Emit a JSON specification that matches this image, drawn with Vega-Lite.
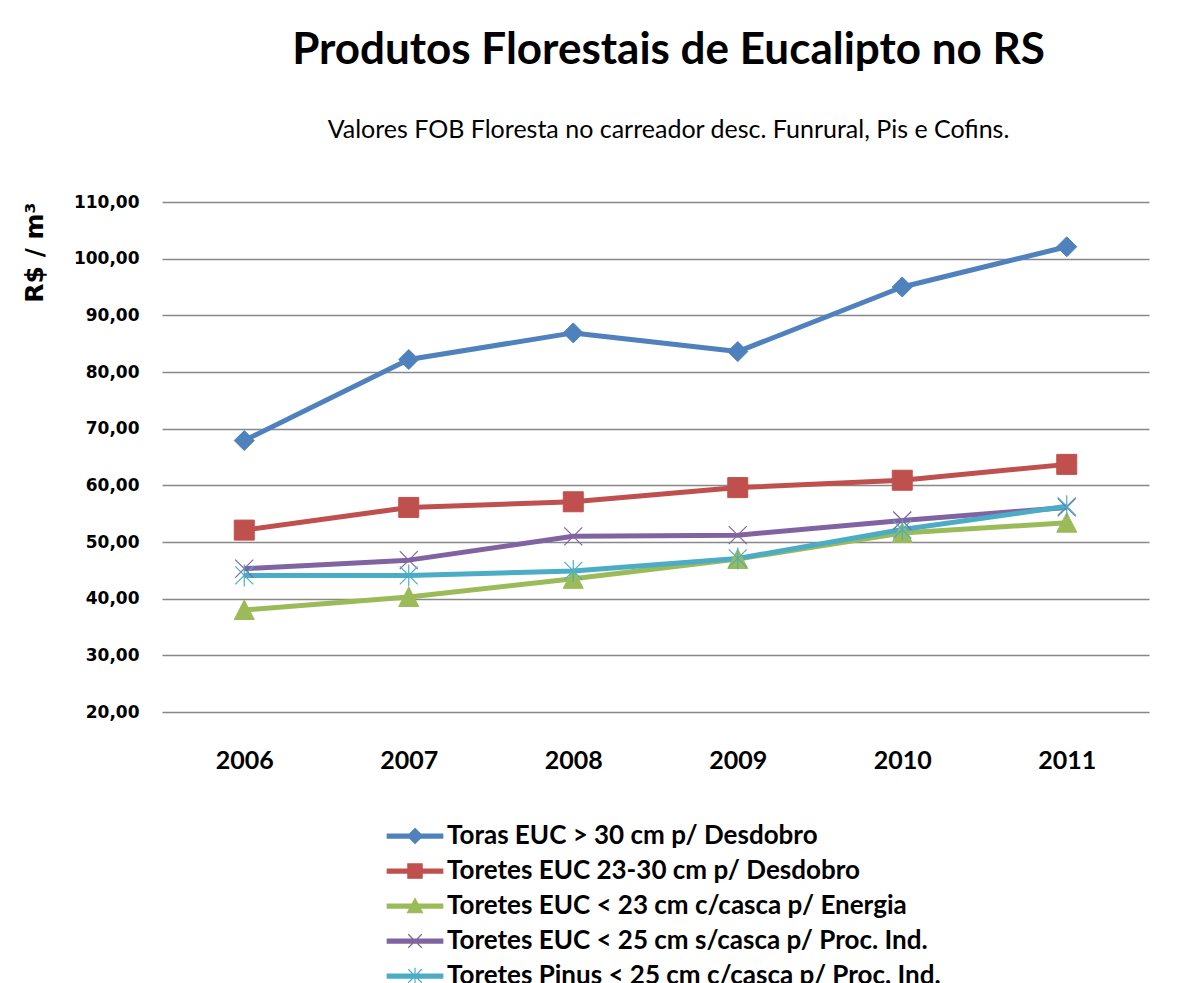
{
  "$schema": "https://vega.github.io/schema/vega-lite/v6.json",
  "autosize": {"type": "none"},
  "width": 987,
  "height": 510,
  "padding": {"left": 162, "top": 202, "right": 30, "bottom": 271},
  "background": "white",
  "config": {"view": {"stroke": null}},
  "title": {
    "text": "Produtos Florestais de Eucalipto no RS",
    "subtitle": "Valores FOB Floresta no carreador desc. Funrural, Pis e Cofins.",
    "anchor": "middle",
    "dx": 13,
    "font": "Lato",
    "fontSize": 44,
    "fontWeight": "bold",
    "color": "black",
    "subtitleFont": "Lato",
    "subtitleFontSize": 25,
    "subtitleColor": "black",
    "subtitlePadding": 45,
    "offset": 50
  },
  "data": {
    "values": [
      {"year": "2006", "series": "Toras EUC > 30 cm p/ Desdobro", "value": 67.9},
      {"year": "2007", "series": "Toras EUC > 30 cm p/ Desdobro", "value": 82.2},
      {"year": "2008", "series": "Toras EUC > 30 cm p/ Desdobro", "value": 86.9},
      {"year": "2009", "series": "Toras EUC > 30 cm p/ Desdobro", "value": 83.6},
      {"year": "2010", "series": "Toras EUC > 30 cm p/ Desdobro", "value": 95.0},
      {"year": "2011", "series": "Toras EUC > 30 cm p/ Desdobro", "value": 102.1},
      {"year": "2006", "series": "Toretes EUC 23-30 cm p/ Desdobro", "value": 52.1},
      {"year": "2007", "series": "Toretes EUC 23-30 cm p/ Desdobro", "value": 56.1},
      {"year": "2008", "series": "Toretes EUC 23-30 cm p/ Desdobro", "value": 57.1},
      {"year": "2009", "series": "Toretes EUC 23-30 cm p/ Desdobro", "value": 59.6},
      {"year": "2010", "series": "Toretes EUC 23-30 cm p/ Desdobro", "value": 60.9},
      {"year": "2011", "series": "Toretes EUC 23-30 cm p/ Desdobro", "value": 63.7},
      {"year": "2006", "series": "Toretes EUC < 23 cm c/casca p/ Energia", "value": 38.0},
      {"year": "2007", "series": "Toretes EUC < 23 cm c/casca p/ Energia", "value": 40.3},
      {"year": "2008", "series": "Toretes EUC < 23 cm c/casca p/ Energia", "value": 43.5},
      {"year": "2009", "series": "Toretes EUC < 23 cm c/casca p/ Energia", "value": 47.0},
      {"year": "2010", "series": "Toretes EUC < 23 cm c/casca p/ Energia", "value": 51.6},
      {"year": "2011", "series": "Toretes EUC < 23 cm c/casca p/ Energia", "value": 53.4},
      {"year": "2006", "series": "Toretes EUC < 25 cm s/casca p/ Proc. Ind.", "value": 45.3},
      {"year": "2007", "series": "Toretes EUC < 25 cm s/casca p/ Proc. Ind.", "value": 46.8},
      {"year": "2008", "series": "Toretes EUC < 25 cm s/casca p/ Proc. Ind.", "value": 51.0},
      {"year": "2009", "series": "Toretes EUC < 25 cm s/casca p/ Proc. Ind.", "value": 51.2},
      {"year": "2010", "series": "Toretes EUC < 25 cm s/casca p/ Proc. Ind.", "value": 53.8},
      {"year": "2011", "series": "Toretes EUC < 25 cm s/casca p/ Proc. Ind.", "value": 56.1},
      {"year": "2006", "series": "Toretes Pinus < 25 cm c/casca p/ Proc. Ind.", "value": 44.1},
      {"year": "2007", "series": "Toretes Pinus < 25 cm c/casca p/ Proc. Ind.", "value": 44.1},
      {"year": "2008", "series": "Toretes Pinus < 25 cm c/casca p/ Proc. Ind.", "value": 44.9},
      {"year": "2009", "series": "Toretes Pinus < 25 cm c/casca p/ Proc. Ind.", "value": 47.1},
      {"year": "2010", "series": "Toretes Pinus < 25 cm c/casca p/ Proc. Ind.", "value": 52.2},
      {"year": "2011", "series": "Toretes Pinus < 25 cm c/casca p/ Proc. Ind.", "value": 56.3}
    ]
  },
  "encoding": {
    "x": {
      "field": "year",
      "type": "ordinal",
      "scale": {"type": "point", "padding": 0.5},
      "axis": {
        "title": null,
        "labelAngle": 0,
        "labelFont": "Lato",
        "labelFontSize": 25,
        "labelFontWeight": "bold",
        "labelColor": "black",
        "labelPadding": 36,
        "ticks": false,
        "domain": false,
        "grid": false
      }
    },
    "y": {
      "field": "value",
      "type": "quantitative",
      "scale": {"domain": [20, 110], "nice": false, "zero": false},
      "axis": {
        "values": [20, 30, 40, 50, 60, 70, 80, 90, 100, 110],
        "labelExpr": "replace(format(datum.value, '.2f'), '.', ',')",
        "labelFont": "DejaVu Sans",
        "labelFontSize": 17,
        "labelFontWeight": "bold",
        "labelColor": "black",
        "labelPadding": 23,
        "ticks": false,
        "domain": false,
        "grid": true,
        "gridColor": "#888888",
        "gridWidth": 1.3,
        "title": "R$ / m³",
        "titleFont": "DejaVu Sans",
        "titleFontSize": 25,
        "titleFontWeight": "bold",
        "titleColor": "black",
        "titleAngle": 270,
        "titleAlign": "right",
        "titleBaseline": "middle",
        "titleX": -128,
        "titleY": 0
      }
    }
  },
  "layer": [
    {
      "mark": {"type": "line", "strokeWidth": 5, "strokeJoin": "round"},
      "encoding": {
        "color": {
          "field": "series",
          "type": "nominal",
          "scale": {
            "domain": [
              "Toras EUC > 30 cm p/ Desdobro",
              "Toretes EUC 23-30 cm p/ Desdobro",
              "Toretes EUC < 23 cm c/casca p/ Energia",
              "Toretes EUC < 25 cm s/casca p/ Proc. Ind.",
              "Toretes Pinus < 25 cm c/casca p/ Proc. Ind."
            ],
            "range": ["#4F81BD", "#C0504D", "#9BBB59", "#8064A2", "#4BACC6"]
          },
          "legend": {
            "orient": "none",
            "legendX": 240,
            "legendY": 621,
            "direction": "vertical",
            "title": null,
            "padding": 0,
            "symbolSize": 225,
            "symbolType": {"expr": "['M-3.7,-0.27L3.7,-0.27L3.7,0.27L-3.7,0.27ZM0,-1L1,0L0,1L-1,0Z', 'M-3.7,-0.27L3.7,-0.27L3.7,0.27L-3.7,0.27ZM-0.95,-0.95L0.95,-0.95L0.95,0.95L-0.95,0.95Z', 'M-3.7,-0.27L3.7,-0.27L3.7,0.27L-3.7,0.27ZM0,-1L1,0.9L-1,0.9Z', 'M-3.7,-0.27L3.7,-0.27L3.7,0.27L-3.7,0.27ZM-0.9,-0.9L0.9,0.9M-0.9,0.9L0.9,-0.9', 'M-3.7,-0.27L3.7,-0.27L3.7,0.27L-3.7,0.27ZM-0.9,-0.9L0.9,0.9M-0.9,0.9L0.9,-0.9M0,-1.1L0,1.1'][indexof(['Toras EUC > 30 cm p/ Desdobro', 'Toretes EUC 23-30 cm p/ Desdobro', 'Toretes EUC < 23 cm c/casca p/ Energia', 'Toretes EUC < 25 cm s/casca p/ Proc. Ind.', 'Toretes Pinus < 25 cm c/casca p/ Proc. Ind.'], datum.value)]"},
            "symbolFillColor": {"expr": "scale('color', datum.value)"},
            "symbolStrokeColor": {"expr": "scale('color', datum.value)"},
            "symbolStrokeWidth": 1.2,
            "symbolOpacity": 1,
            "labelFont": "Lato",
            "labelFontSize": 26,
            "labelFontWeight": "bold",
            "labelColor": "black",
            "labelLimit": 0,
            "labelOffset": 19,
            "rowPadding": 9
          }
        }
      }
    },
    {
      "transform": [{"filter": "datum.series === 'Toras EUC > 30 cm p/ Desdobro'"}],
      "mark": {"type": "point", "filled": true, "size": 400, "opacity": 1, "shape": "M0,-1L1,0L0,1L-1,0Z", "fill": "#4F81BD", "stroke": "#4F81BD", "strokeWidth": 1}
    },
    {
      "transform": [{"filter": "datum.series === 'Toretes EUC 23-30 cm p/ Desdobro'"}],
      "mark": {"type": "point", "filled": true, "size": 400, "opacity": 1, "shape": "M-1,-1L1,-1L1,1L-1,1Z", "fill": "#C0504D", "stroke": "#C0504D", "strokeWidth": 1}
    },
    {
      "transform": [{"filter": "datum.series === 'Toretes EUC < 23 cm c/casca p/ Energia'"}],
      "mark": {"type": "point", "filled": true, "size": 400, "opacity": 1, "shape": "M0,-1L1,0.95L-1,0.95Z", "fill": "#9BBB59", "stroke": "#9BBB59", "strokeWidth": 1}
    },
    {
      "transform": [{"filter": "datum.series === 'Toretes EUC < 25 cm s/casca p/ Proc. Ind.'"}],
      "mark": {"type": "point", "filled": false, "size": 400, "opacity": 1, "shape": "M-0.9,-0.9L0.9,0.9M-0.9,0.9L0.9,-0.9", "stroke": "#8064A2", "strokeWidth": 1.2}
    },
    {
      "transform": [{"filter": "datum.series === 'Toretes Pinus < 25 cm c/casca p/ Proc. Ind.'"}],
      "mark": {"type": "point", "filled": false, "size": 400, "opacity": 1, "shape": "M-0.9,-0.9L0.9,0.9M-0.9,0.9L0.9,-0.9M0,-1.1L0,1.1", "stroke": "#4BACC6", "strokeWidth": 1.2}
    }
  ]
}
